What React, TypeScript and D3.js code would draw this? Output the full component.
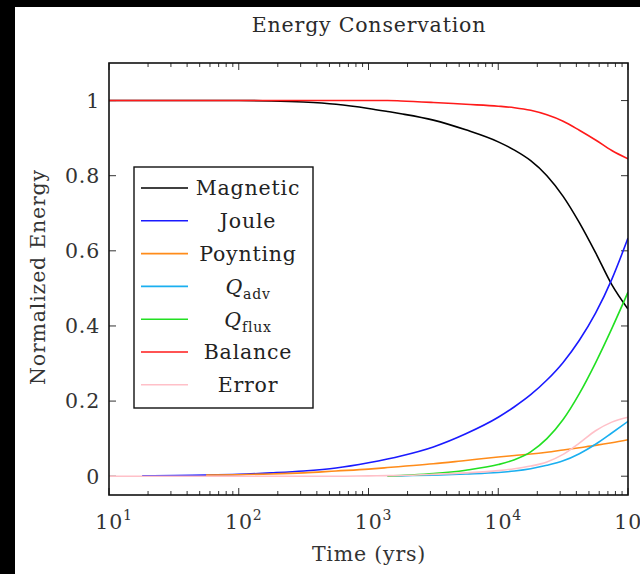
import * as d3 from "d3";

// time samples (yrs), roughly quarter-decade spacing, eighth-decade near the end
const times = [10, 18, 32, 56, 100, 178, 316, 562, 1000, 1400, 1778, 3162, 5623, 10000, 13335, 17783, 23714, 31623, 42170, 56234, 74989, 100000];

const magnetic = [1, 1, 1, 1, 1, 0.999, 0.996, 0.99, 0.979, 0.971, 0.965, 0.948, 0.922, 0.89, 0.868, 0.84, 0.8, 0.745, 0.675, 0.595, 0.51, 0.445];
const joule = [null, 0.001, 0.002, 0.003, 0.005, 0.009, 0.014, 0.022, 0.036, 0.046, 0.054, 0.078, 0.113, 0.157, 0.185, 0.217, 0.256, 0.303, 0.362, 0.434, 0.524, 0.634];
const poynting = [null, null, null, 0.003, 0.004, 0.006, 0.009, 0.014, 0.019, 0.023, 0.026, 0.033, 0.042, 0.051, 0.055, 0.059, 0.064, 0.07, 0.076, 0.082, 0.089, 0.097];
const qAdv = [null, null, null, null, null, null, null, null, null, 0, 0.001, 0.003, 0.006, 0.01, 0.014, 0.02, 0.029, 0.041, 0.06, 0.085, 0.115, 0.146];
const qFlux = [null, null, null, null, null, null, null, null, null, 0, 0.002, 0.007, 0.016, 0.031, 0.044, 0.065, 0.1, 0.151, 0.22, 0.302, 0.393, 0.49];
const balance = [1, 1, 1, 1, 1, 1, 1, 1, 1, 1, 0.999, 0.995, 0.99, 0.985, 0.981, 0.974, 0.962, 0.945, 0.921, 0.895, 0.867, 0.845];
const error = [0, 0, 0, 0, 0, 0, 0, 0, 0.001, 0.0015, 0.002, 0.005, 0.009, 0.015, 0.02, 0.027, 0.038, 0.058, 0.088, 0.121, 0.144, 0.157];

const seriesNames = ["Magnetic", "Joule", "Poynting", "Qadv", "Qflux", "Balance", "Error"];
const seriesColors = ["#000000", "#1a1aff", "#ff8c1a", "#1aaff0", "#22e022", "#ff1a1a", "#ffc0c8"];
const seriesValues = [magnetic, joule, poynting, qAdv, qFlux, balance, error];

const yTicks = [0, 0.2, 0.4, 0.6, 0.8, 1];
const xMajor = [10, 100, 1000, 10000, 100000];

const FONT = "'DejaVu Serif', serif";
const FS = 20.5;
const LS = 0.8;

export default function App() {
    const width = 640,
        height = 574;
    const left = 109,
        right = 628,
        top = 63,
        bottom = 495;

    const xScale = d3.scaleLog().domain([10, 100000]).range([left, right]);
    const yScale = d3.scaleLinear().domain([-0.05, 1.1]).range([bottom, top]);

    const line = d3
        .line<number | null>()
        .defined((d) => d !== null)
        .x((d, i) => xScale(times[i]))
        .y((d) => yScale(d as number))
        .curve(d3.curveMonotoneX);

    const xTicks = xScale.ticks();
    const isMajor = (t: number) => Math.abs(Math.log10(t) - Math.round(Math.log10(t))) < 1e-9;

    const legendX = 134,
        legendY = 167,
        legendW = 179,
        legendH = 241;
    const rowY = (i: number) => 188 + i * 32.8;

    const label = (name: string) => {
        if (name === "Qadv" || name === "Qflux")
            return (
                <>
                    <tspan fontStyle="italic">Q</tspan>
                    <tspan fontSize={14} dy={5}>{name === "Qadv" ? "adv" : "flux"}</tspan>
                </>
            );
        return name;
    };

    return (
        <div style={{ position: "absolute", left: 0, top: 0 }}>
            <svg width={width} height={height} style={{ display: "block" }} fontFamily={FONT}>
                <rect x={0} y={0} width={width} height={height} fill="#000" />
                <rect x={15} y={7} width={width - 15} height={height - 7} fill="#fff" />
                <defs>
                    <clipPath id="plot-clip">
                        <rect x={left} y={top} width={right - left} height={bottom - top} />
                    </clipPath>
                </defs>

                {/* title */}
                <text x={369} y={32} textAnchor="middle" fontSize={FS} letterSpacing={LS} fill="#2a2a2a">
                    Energy Conservation
                </text>

                {/* ticks */}
                {xTicks.map((t) => {
                    const x = xScale(t);
                    const len = isMajor(t) ? 7 : 4;
                    return (
                        <g key={t} stroke="#333" strokeWidth={1}>
                            <line x1={x} x2={x} y1={bottom} y2={bottom - len} />
                            <line x1={x} x2={x} y1={top} y2={top + len} />
                        </g>
                    );
                })}
                {yTicks.map((t) => (
                    <g key={t} stroke="#333" strokeWidth={1}>
                        <line x1={left} x2={left + 7} y1={yScale(t)} y2={yScale(t)} />
                        <line x1={right} x2={right - 7} y1={yScale(t)} y2={yScale(t)} />
                    </g>
                ))}

                {/* lines */}
                <g clipPath="url(#plot-clip)" fill="none" strokeWidth={1.6}>
                    {seriesValues.map((vals, i) => (
                        <path key={seriesNames[i]} d={line(vals) || ""} stroke={seriesColors[i]} />
                    ))}
                </g>

                {/* frame */}
                <rect x={left} y={top} width={right - left} height={bottom - top} fill="none" stroke="#111" strokeWidth={1.6} />

                {/* tick labels */}
                {yTicks.map((t) => (
                    <text key={t} x={100} y={yScale(t)} dy="0.36em" textAnchor="end" fontSize={FS} letterSpacing={LS} fill="#333">
                        {d3.format("~g")(t)}
                    </text>
                ))}
                {xMajor.map((t) => (
                    <text key={t} x={xScale(t) + 5} y={529} textAnchor="middle" fontSize={FS} letterSpacing={LS} fill="#333">
                        10<tspan fontSize={14} dy={-9}>{Math.round(Math.log10(t))}</tspan>
                    </text>
                ))}

                {/* axis labels */}
                <text x={369} y={561} textAnchor="middle" fontSize={FS} letterSpacing={LS} fill="#333">
                    Time (yrs)
                </text>
                <text transform="translate(45,277) rotate(-90)" textAnchor="middle" fontSize={FS} letterSpacing={LS} fill="#333">
                    Normalized Energy
                </text>

                {/* legend */}
                <rect x={legendX} y={legendY} width={legendW} height={legendH} fill="#fff" stroke="#111" strokeWidth={1.4} />
                {seriesNames.map((name, i) => (
                    <g key={name}>
                        <line x1={141} x2={188} y1={rowY(i)} y2={rowY(i)} stroke={seriesColors[i]} strokeWidth={1.6} />
                        <text x={248} y={rowY(i)} dy="0.36em" textAnchor="middle" fontSize={FS} letterSpacing={LS} fill="#222">
                            {label(name)}
                        </text>
                    </g>
                ))}
            </svg>
        </div>
    );
}
